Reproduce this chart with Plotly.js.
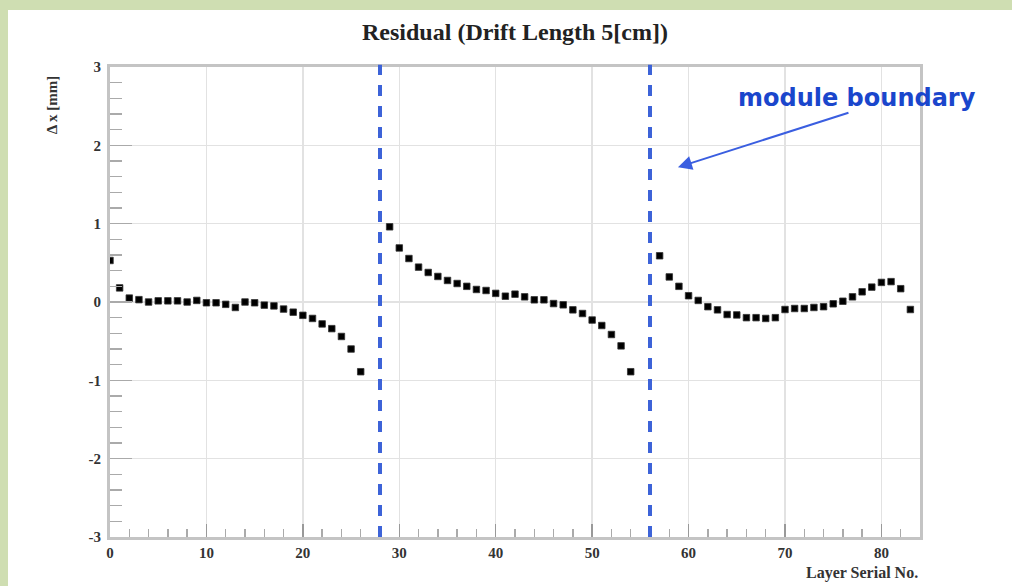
<!DOCTYPE html>
<html>
<head>
<meta charset="utf-8">
<script src="https://cdn.plot.ly/plotly-3.0.1.min.js"></script>
<style>
html,body{margin:0;padding:0;width:1012px;height:586px;overflow:hidden;background:#cfdeb2;}
#chart{position:absolute;left:8px;top:10px;width:1004px;height:576px;background:#fff;}
</style>
</head>
<body>
<div id="chart"></div>
<script>
// Module 1
const layers1 = [0,1,2,3,4,5,6,7,8,9,10,11,12,13,14,15,16,17,18,19,20,21,22,23,24,25,26];
const resid1 = [0.53,0.18,0.05,0.03,0.0,0.015,0.015,0.015,0.0,0.02,-0.01,-0.01,-0.03,-0.07,0.0,-0.01,-0.04,-0.05,-0.09,-0.13,-0.17,-0.21,-0.28,-0.34,-0.44,-0.60,-0.89];
// Module 2
const layers2 = [29,30,31,32,33,34,35,36,37,38,39,40,41,42,43,44,45,46,47,48,49,50,51,52,53,54];
const resid2 = [0.96,0.69,0.555,0.445,0.377,0.326,0.275,0.236,0.20,0.16,0.147,0.11,0.074,0.10,0.066,0.028,0.028,-0.02,-0.036,-0.10,-0.147,-0.23,-0.30,-0.415,-0.56,-0.89];
// Module 3
const layers3 = [57,58,59,60,61,62,63,64,65,66,67,68,69,70,71,72,73,74,75,76,77,78,79,80,81,82,83];
const resid3 = [0.59,0.32,0.20,0.08,0.02,-0.06,-0.10,-0.16,-0.165,-0.20,-0.20,-0.21,-0.20,-0.096,-0.083,-0.083,-0.07,-0.06,-0.023,0.01,0.066,0.13,0.19,0.25,0.26,0.17,-0.096];
// Module boundaries
const boundaries = [28, 56];
const xTicks = [0,10,20,30,40,50,60,70,80];
const yTicks = [-3,-2,-1,0,1,2,3];

const layers = layers1.concat(layers2, layers3);
const resid = resid1.concat(resid2, resid3);

const serif = 'Liberation Serif, Times New Roman, serif';

const trace = {
  x: layers, y: resid, type: 'scatter', mode: 'markers',
  marker: {symbol: 'square', size: 6.5, color: '#000', line: {color: '#333', width: 0.8}},
  hoverinfo: 'x+y', showlegend: false
};

const shapes = boundaries.map(b => ({
  type: 'line', xref: 'x', yref: 'paper', x0: b, x1: b, y0: 0, y1: 1.005,
  line: {color: '#3d63d8', width: 4, dash: '11px,10px'}
}));

const layout = {
  width: 1004, height: 576,
  margin: {l: 102, r: 92, t: 57, b: 49},
  paper_bgcolor: '#fff', plot_bgcolor: '#fff',
  title: {text: '<b>Residual (Drift Length 5[cm])</b>', x: 0.505, xanchor: 'center', y: 0.963, yref: 'container', yanchor: 'middle',
    font: {family: serif, size: 24, color: '#222'}},
  xaxis: {
    range: [0, 84], tickvals: xTicks, ticktext: xTicks.map(String),
    ticks: 'inside', ticklen: 13, tickwidth: 1.5, tickcolor: '#999',
    minor: {dtick: 2, ticks: 'inside', ticklen: 8, tickcolor: '#aaa', tickwidth: 1.5, showgrid: false},
    showgrid: true, gridcolor: '#e2e2e2', gridwidth: 1.5,
    showline: true, linecolor: '#c4c4c4', linewidth: 3, mirror: true,
    zeroline: false,
    tickfont: {family: serif, size: 15, color: '#333', weight: 'bold'},
    ticklabelstandoff: 0
  },
  yaxis: {
    range: [-3, 3], tickvals: yTicks, ticktext: yTicks.map(String),
    ticks: 'inside', ticklen: 22, tickwidth: 1.5, tickcolor: '#aaa',
    minor: {dtick: 0.2, ticks: 'inside', ticklen: 12, tickcolor: '#aaa', tickwidth: 1.5, showgrid: false},
    showgrid: true, gridcolor: '#e2e2e2', gridwidth: 1.5,
    showline: true, linecolor: '#c4c4c4', linewidth: 3, mirror: true,
    zeroline: false,
    tickfont: {family: serif, size: 15, color: '#333', weight: 'bold'},
    ticklabelstandoff: 3
  },
  shapes: shapes,
  annotations: [
    {text: '<b>Layer Serial No.</b>', xref: 'paper', yref: 'paper', x: 1.0, y: -0.076, xanchor: 'right', yanchor: 'middle',
      showarrow: false, font: {family: serif, size: 16, color: '#333'}},
    {text: '<b>Δ x [mm]</b>', xref: 'paper', yref: 'paper', x: -0.072, y: 0.92, xanchor: 'center', yanchor: 'middle',
      textangle: -90, showarrow: false, font: {family: serif, size: 15, color: '#333'}},
    {text: '<b>module boundary</b>', xref: 'paper', yref: 'paper', x: 1.072, y: 0.933, xanchor: 'right', yanchor: 'middle',
      showarrow: false, font: {family: 'DejaVu Sans, Verdana, sans-serif', size: 24, color: '#1a46cc'}},
    {text: '', xref: 'x', yref: 'y', x: 58.9, y: 1.72, axref: 'pixel', ayref: 'pixel', ax: 172, ay: -55,
      showarrow: true, arrowhead: 2, arrowsize: 1.4, arrowwidth: 2, arrowcolor: '#3a5ee0', standoff: 0}
  ]
};

Plotly.newPlot('chart', [trace], layout, {displayModeBar: false, staticPlot: true});
</script>
</body>
</html>
